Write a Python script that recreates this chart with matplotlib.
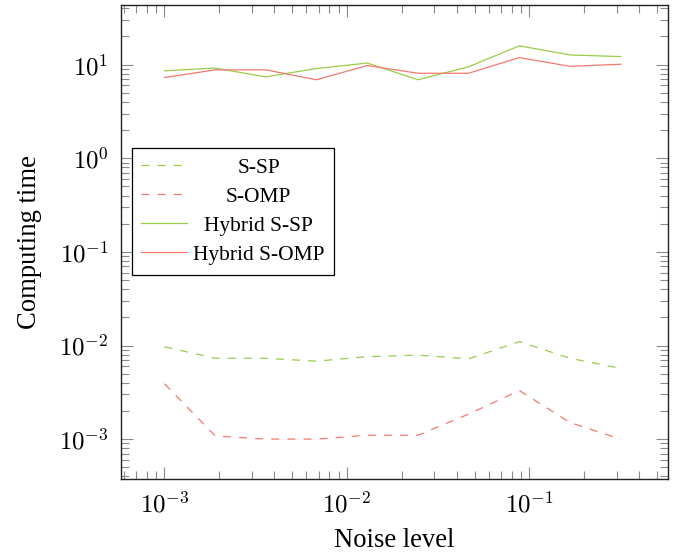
import numpy as np
import matplotlib
matplotlib.use("Agg")
import matplotlib.pyplot as plt
from matplotlib.ticker import LogLocator, FuncFormatter, NullFormatter

# noise levels (x) and computing times (y)
noise = [0.001, 0.00190, 0.00359, 0.00681, 0.0129, 0.0245, 0.0464, 0.0880, 0.167, 0.316]
s_sp = [0.0097, 0.0073, 0.0073, 0.0068, 0.0076, 0.0079, 0.0072, 0.0110, 0.0073, 0.0057]
s_omp = [0.0039, 0.00108, 0.0010, 0.0010, 0.0011, 0.0011, 0.00185, 0.0033, 0.0015, 0.0010]
hyb_sp = [8.6, 9.2, 7.4, 9.1, 10.4, 6.9, 9.5, 15.9, 12.7, 12.2]
hyb_omp = [7.3, 8.8, 8.8, 6.9, 9.8, 8.1, 8.1, 11.9, 9.6, 10.1]

labels = ["S-SP", "S-OMP", "Hybrid S-SP", "Hybrid S-OMP"]
green = "#98cd4a"
red = "#f47a6e"

plt.rcParams["font.family"] = ["Liberation Serif", "DejaVu Serif"]
plt.rcParams["mathtext.fontset"] = "cm"
plt.rcParams["lines.scale_dashes"] = False

fig = plt.figure(figsize=(6.88, 5.54), dpi=100)
ax = fig.add_axes([0.1759, 0.1354, 0.795, 0.8549])

dash = (0, (5.8, 5.8))
ax.plot(noise, s_sp, color=green, lw=0.9, linestyle=dash, label=labels[0])
ax.plot(noise, s_omp, color=red, lw=0.9, linestyle=dash, label=labels[1])
ax.plot(noise, hyb_sp, color=green, lw=0.9, label=labels[2])
ax.plot(noise, hyb_omp, color=red, lw=0.9, label=labels[3])

ax.set_xscale("log")
ax.set_yscale("log")
ax.set_xlim(5.78e-4, 0.574)
ax.set_ylim(3.75e-4, 43)

fmt = FuncFormatter(lambda v, p: r"$10^{%d}$" % int(round(np.log10(v))))
for axis in (ax.xaxis, ax.yaxis):
    axis.set_major_locator(LogLocator(base=10, numticks=20))
    axis.set_minor_locator(LogLocator(base=10, subs=np.arange(2, 10), numticks=20))
    axis.set_major_formatter(fmt)
    axis.set_minor_formatter(NullFormatter())

ax.tick_params(which="both", direction="in", top=True, right=True,
               color="#8a8a8a", width=0.8, labelsize=17.9)
ax.tick_params(which="major", length=8.5, pad=9)
ax.tick_params(which="minor", length=5.5)
for sp in ax.spines.values():
    sp.set_linewidth(1.0)
    sp.set_color("#222222")

ax.set_xlabel("Noise level", fontsize=19.2, labelpad=8)
ax.set_ylabel("Computing time", fontsize=19.2, labelpad=12)

leg = ax.legend(loc="upper left", bbox_to_anchor=(0.0195, 0.699), borderaxespad=0,
                fontsize=15.5, frameon=True, fancybox=False, edgecolor="black",
                framealpha=1, handlelength=2.1, labelspacing=0.42,
                borderpad=0.45, handletextpad=0.3)
leg.get_frame().set_linewidth(0.9)

# centre the legend labels in their column, as in the reference
fig.canvas.draw()
renderer = fig.canvas.get_renderer()
texts = leg.get_texts()
widths = [t.get_window_extent(renderer).width for t in texts]
wmax = max(widths)
for t, w in zip(texts, widths):
    t.set_x((wmax - w) / 2)

fig.savefig("out.png", dpi=100)
